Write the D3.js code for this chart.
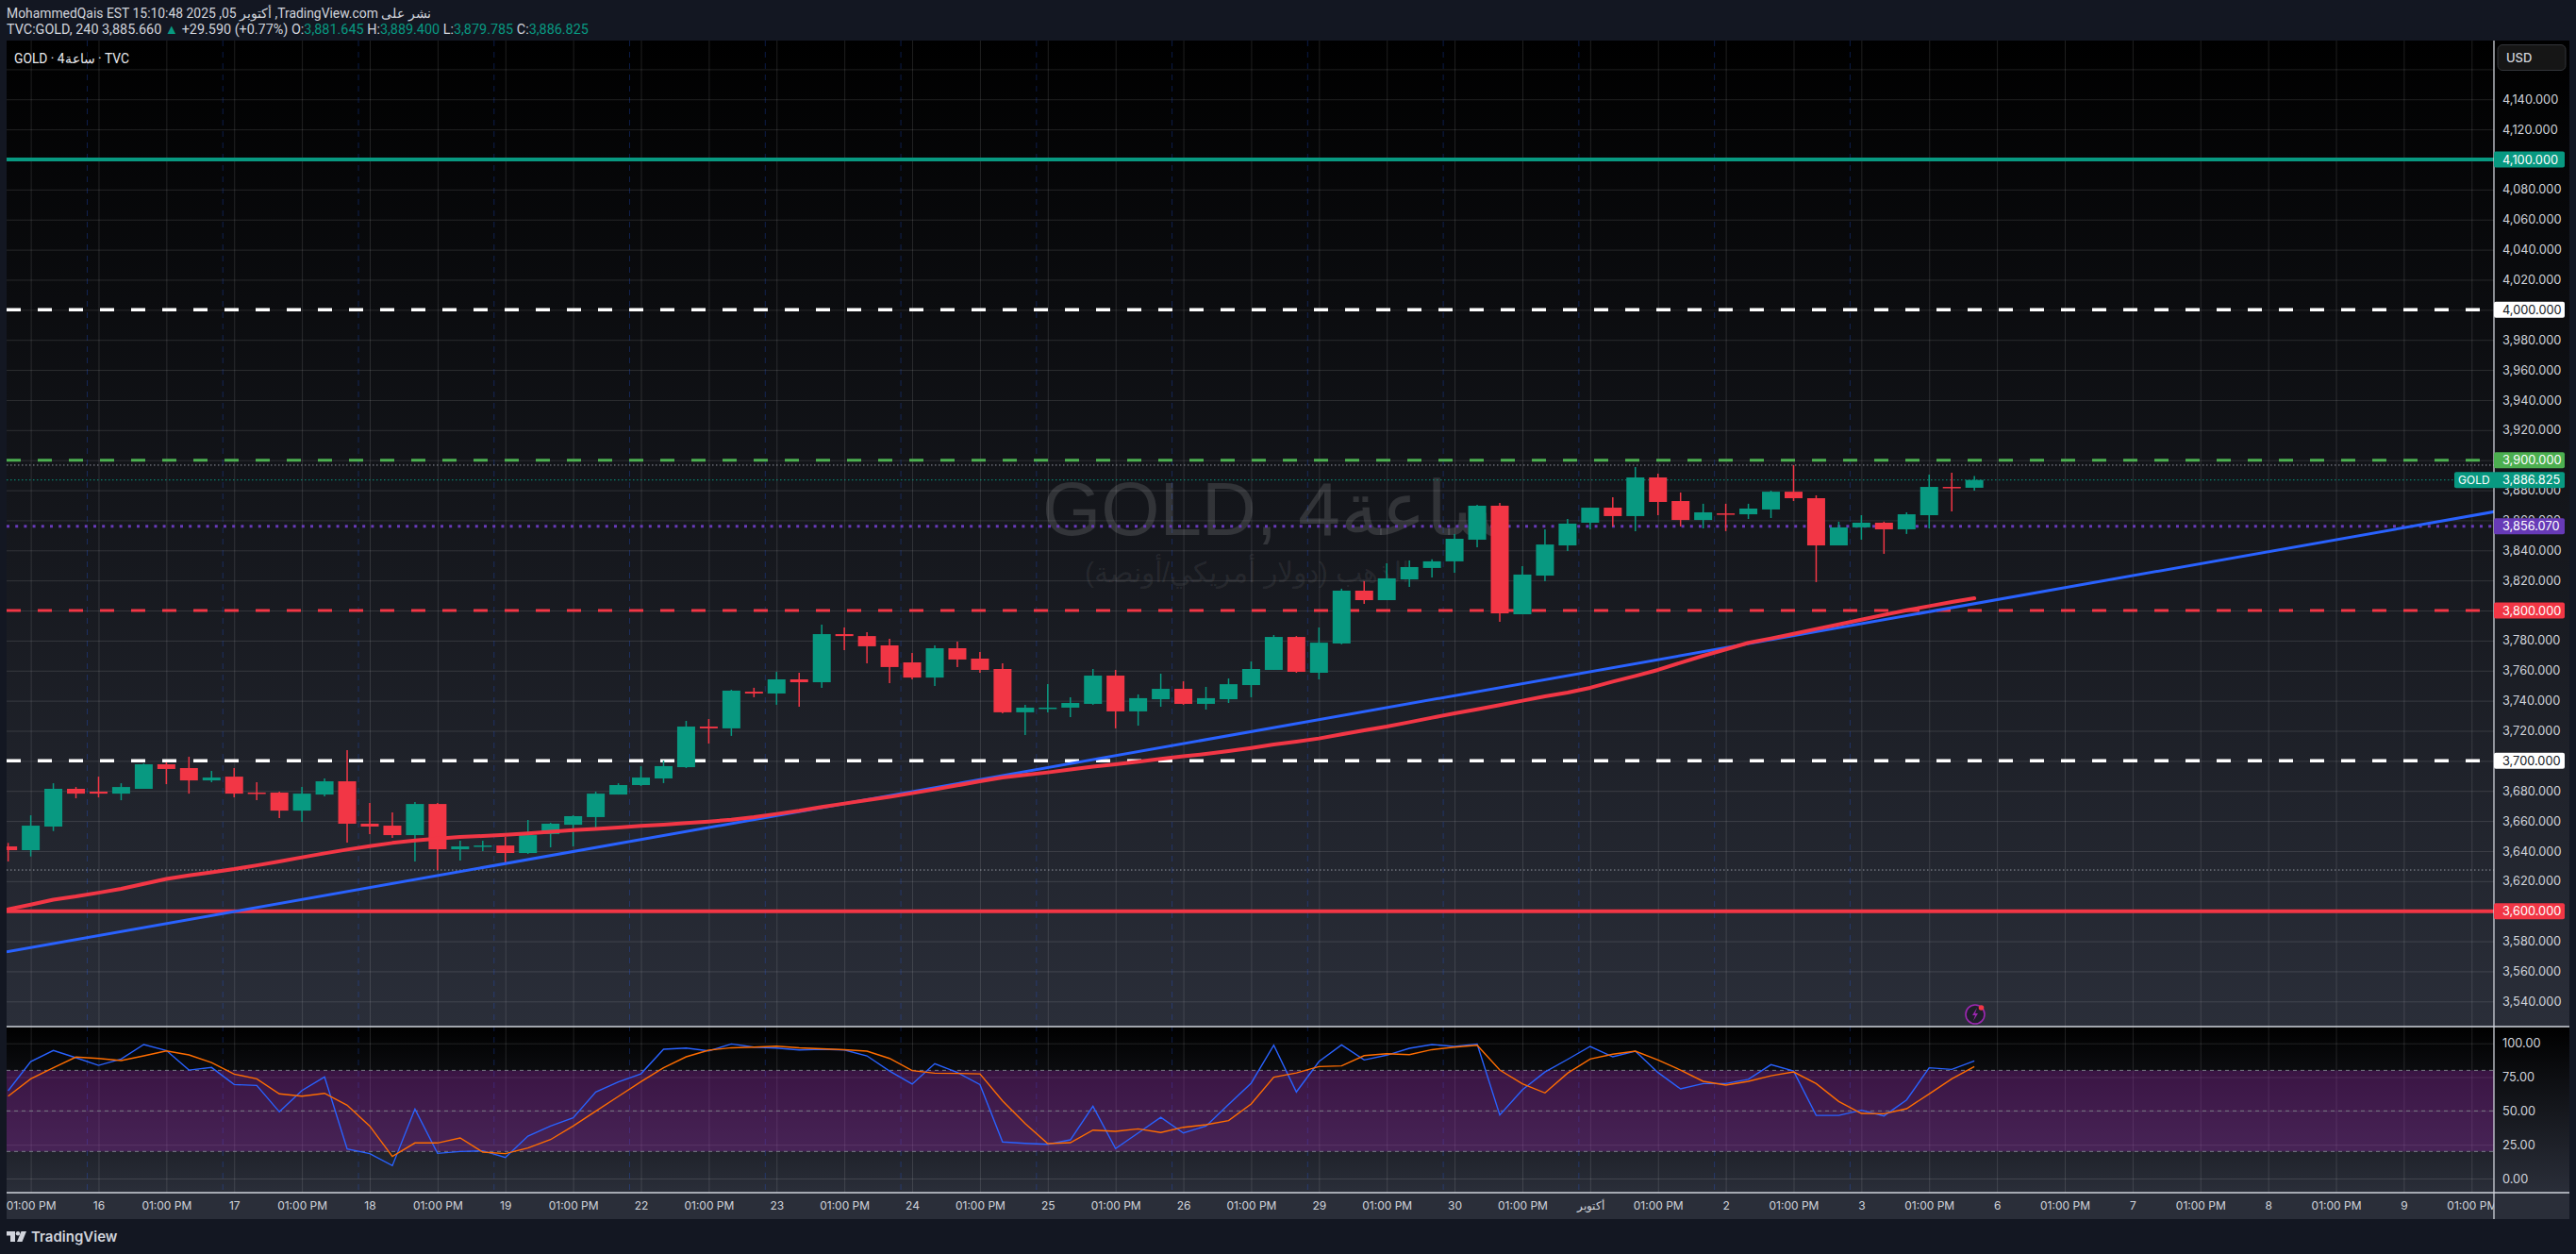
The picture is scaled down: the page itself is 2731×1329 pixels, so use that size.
<!DOCTYPE html>
<html>
<head>
<meta charset="utf-8">
<script src="https://cdn.jsdelivr.net/npm/d3@7"></script>
<style>
  html, body { margin: 0; padding: 0; background: #131722; overflow: hidden; }
  svg { display: block; }
  text { font-family: Inter, sans-serif; }
  .axis text { fill: #d1d4dc; font-size: 12.8px; font-family: Inter, sans-serif; }
  .time text { font-size: 12px; }
  .axis .domain { display: none; }
  .grid .domain { display: none; }
  .grid line { stroke: #fff; stroke-opacity: 0.12; }
</style>
</head>
<body>
<svg id="chart"></svg>
<script>
const opens = [3643.1,3640.6,3656.3,3681.4,3679.5,3678.2,3681.4,3697.7,3695.2,3687,3689.5,3678.9,3678.9,3666.9,3677.6,3686.4,3658.2,3656.9,3650.6,3671.3,3641.2,3643.1,3643.7,3638.7,3651.3,3657.5,3662.6,3677.6,3683.9,3688.3,3695.8,3722.8,3721.6,3746,3744.8,3754.2,3752.3,3784.3,3783,3776.8,3765.5,3755.4,3774.9,3768,3761.1,3732.3,3734.8,3735.4,3737.9,3756.7,3732.9,3741,3747.9,3737.9,3741,3750.4,3760.5,3782.4,3758.6,3778.1,3813.2,3806.9,3820.7,3828.3,3832.7,3847.1,3869.7,3797.5,3823.2,3843.3,3858.4,3868.4,3862.8,3888.5,3872.8,3860.2,3864.6,3864,3867.2,3879,3874.7,3843.3,3855.3,3858.4,3854,3863.4,3882.2,3881.645];
const highs = [3645.4,3663.8,3685.1,3682.6,3689.5,3685.1,3698.3,3699,3702.7,3693.3,3695.2,3685.8,3679.5,3682.6,3688.3,3707.1,3672,3665.7,3672.6,3672,3646.9,3646.9,3649.4,3660.7,3658.8,3663.8,3679.5,3685.1,3696.4,3700.2,3726.6,3727.8,3747.3,3748.6,3759.2,3758.6,3790.6,3788.7,3785.6,3781.2,3771.8,3776.8,3779.3,3772.4,3764.9,3737.3,3751,3742.3,3761.1,3760.5,3744.2,3758,3752.9,3749.2,3754.8,3766.1,3783.7,3783,3788.7,3814.5,3819.5,3831.4,3833.3,3834,3850.9,3870.3,3871.6,3829.5,3854,3860.9,3868.4,3875.3,3895.4,3891,3878.5,3871,3871,3871,3879.7,3896.7,3876.6,3859.1,3863.4,3859.1,3865.3,3890.4,3891.6,3889.4];
const lows = [3633.1,3636.4,3653.3,3675.1,3675.7,3673.8,3681.4,3684.5,3678.2,3685.8,3675.7,3673.8,3661.9,3659.4,3676.4,3645.6,3651.3,3648.7,3633.1,3627.4,3633.7,3640,3631.8,3638.1,3642.5,3643.1,3655.6,3677.6,3683.3,3685.2,3695.2,3711.5,3716.6,3742.3,3737.3,3736,3748.6,3773.6,3764.9,3751.7,3754.2,3749.8,3762.4,3758.6,3731.6,3717.2,3732.3,3729.1,3737.3,3721.6,3723.4,3736,3737.3,3734.1,3738.5,3742.3,3760.5,3758.6,3754.2,3777.5,3804.4,3806.9,3815.7,3822,3825.1,3842,3792.5,3797.5,3819.5,3839.5,3854,3855.9,3852.8,3863.4,3855.9,3854.6,3852.8,3860.9,3861.5,3872.8,3818.9,3843.3,3847.1,3837.7,3850.9,3854.6,3865.9,3879.785];
const closes = [3640.6,3656.9,3681.4,3678.2,3678.2,3682.6,3697.7,3694.6,3687,3688.9,3678.2,3678.2,3666.9,3678.2,3686.4,3658.2,3656.3,3650.6,3671.3,3641.2,3643.1,3643.7,3638.7,3650.6,3658.2,3663.2,3678.2,3683.9,3688.9,3696.5,3722.8,3721.6,3746.7,3744.8,3754.2,3752.3,3784.3,3783,3776.2,3762.4,3755.4,3774.9,3767.4,3760.5,3732.3,3735.4,3735.4,3738.5,3756.7,3732.9,3741.7,3747.9,3737.9,3741.7,3751,3761.1,3782.4,3759.2,3778.6,3813.2,3806.9,3821.4,3828.9,3832.7,3847.7,3869.7,3798.1,3823.9,3843.9,3857.8,3868.4,3862.8,3888.5,3872.2,3860.2,3865.3,3864,3867.8,3879,3874.7,3843.3,3855.3,3858.4,3854,3864,3882.2,3881.6,3886.825];

// red moving average, one value per candle
const movingAvg = [3601.3,3604.4,3607.7,3609.8,3612.3,3614.9,3618.2,3621.5,3623.8,3625.9,3628,3630.5,3633.1,3635.8,3638.5,3641,3643.3,3645.4,3647.1,3648.3,3649.4,3650,3650.8,3651.7,3652.9,3654,3654.8,3655.6,3656.7,3657.5,3658.6,3659.6,3660.9,3662.6,3664.7,3666.8,3669.3,3671.6,3673.9,3676,3678.5,3681,3683.7,3686.4,3688.9,3690.6,3692.3,3694.2,3696.1,3697.7,3699.4,3701.3,3703,3704.6,3706.5,3708.6,3710.9,3712.8,3714.9,3717.6,3720.3,3722.8,3725.7,3728.7,3731.6,3734.3,3737.1,3740,3742.9,3745.4,3748.6,3752.7,3756.5,3760.5,3765.3,3769.9,3774.1,3778.5,3781.4,3784.5,3787.7,3790.8,3793.9,3797.1,3800.2,3802.9,3805.7,3808.2];

// blue trend line, two anchors (bar index, price)
const trendBars = [-0.07, 110];
const trendPrices = [3573, 3865.7];

// lower pane
const stochK = [64.9,86.5,94.7,89.3,83.7,88.4,99.1,94.7,80.2,82.1,69.5,68.8,49.3,65.1,75.1,21.9,18.4,9.5,51.4,18.6,20,20.5,15.6,31.4,38.8,44.9,64,71.4,77.4,95.6,96.5,94.4,99.5,97.2,96.5,95.1,95.6,95.1,90.7,79.5,69.8,84.9,78.4,69.5,27,26,25.3,28.6,53.5,22.1,33.7,45.3,33.7,38.8,54.7,70.5,98.6,64,86.5,98.8,87.7,91.2,96.3,99.1,97.7,99.5,47,65.6,78.8,88.1,97.7,90,94.2,78.4,66.3,70.2,70.2,73.3,84.2,79.5,46.7,46.7,50.5,46.3,58.1,81.9,80.7,87];
const stochD = [60.9,73.7,81.9,89.8,88.8,87.2,90.7,94.4,91.4,85.8,77.2,73.7,62.6,60.9,63,54.2,38.8,16.3,26.3,26.3,30,19.5,18.4,22.6,28.8,38.8,49.8,60.7,71.6,81.9,90,94.9,96.7,97.2,97.9,96.7,96,95.3,94.2,88.8,79.8,77.9,77.7,77.4,57.4,40.7,25.8,26.5,35.8,34.9,36.7,34,37.9,39.8,42.8,55.1,74.9,78.1,82.8,83.3,90.9,92.3,91.6,95.3,97.2,98.6,80.2,70,63.3,77.9,88.4,91.9,94.2,87.7,80.2,71.9,69.1,71.9,76,78.8,70.2,57,48.1,47.9,51.6,62.6,73.7,82.8];

const priceTicks = [3540,3560,3580,3600,3620,3640,3660,3680,3700,3720,3740,3760,3780,3800,3820,3840,3860,3880,3900,3920,3940,3960,3980,4000,4020,4040,4060,4080,4100,4120,4140];
const oscTicks = [0,25,50,75,100];
const oscBands = [80,50,20];
const dayLabels = ["16","17","18","19","22","23","24","25","26","29","30","أكتوبر","2","3","6","7","8","9"];
const sessionBars = [3.5,9.5,15.5,21.5,27.5,33.5,39.5,45.5,51.5,57.5,63.5,69.5,75.5,81.5];

const svgWidth = 2731, svgHeight = 1329;
const plotL = 7, plotR = 2644, plotT = 43, paneEnd = 1088, oscEnd = 1264, plotB = 1292, outer = 2724;
const barW = 19;

const svg = d3.select("#chart").attr("width", svgWidth).attr("height", svgHeight);
const defs = svg.append("defs");

const grad = (id, y1, y2) => {
  const g = defs.append("linearGradient").attr("id", id).attr("gradientUnits", "userSpaceOnUse")
    .attr("x1", 0).attr("x2", 0).attr("y1", y1).attr("y2", y2);
  g.append("stop").attr("offset", 0).attr("stop-color", "#000");
  g.append("stop").attr("offset", 1).attr("stop-color", "#2a2e39");
};
grad("mainBg", plotT, paneEnd);
grad("oscBg", paneEnd, oscEnd);

defs.append("clipPath").attr("id", "mainClip").append("rect")
  .attr("x", plotL).attr("y", plotT).attr("width", plotR - plotL).attr("height", paneEnd - plotT);
defs.append("clipPath").attr("id", "oscClip").append("rect")
  .attr("x", plotL).attr("y", paneEnd).attr("width", plotR - plotL).attr("height", oscEnd - paneEnd);
defs.append("clipPath").attr("id", "timeClip").append("rect")
  .attr("x", plotL).attr("y", oscEnd).attr("width", plotR - plotL).attr("height", plotB - oscEnd);

// bars are spaced evenly, the time axis is just bar index
const x = d3.scaleLinear().domain([1, 109]).range([32.6, 2620.3]);
const y = d3.scaleLinear().domain([3600, 4100]).range([965.7, 169]);
const yOsc = d3.scaleLinear().domain([0, 100]).range([1249, 1105.7]);

const timeTicks = [1];
const timeLabels = ["01:00 PM"];
dayLabels.forEach((d, i) => {
  timeTicks.push(4 + i * 6, 7 + i * 6);
  timeLabels.push(d, "01:00 PM");
});

svg.append("rect").attr("x", plotL).attr("y", plotT).attr("width", outer - plotL).attr("height", paneEnd - plotT).attr("fill", "url(#mainBg)");
svg.append("rect").attr("x", plotL).attr("y", paneEnd).attr("width", outer - plotL).attr("height", oscEnd - paneEnd).attr("fill", "url(#oscBg)");
svg.append("rect").attr("x", plotL).attr("y", oscEnd).attr("width", outer - plotL).attr("height", plotB - oscEnd).attr("fill", "#2a2e39");

// grid
svg.append("g").attr("class", "grid").attr("transform", `translate(0, ${paneEnd})`)
  .call(d3.axisBottom(x).tickValues(timeTicks).tickSize(plotT - paneEnd).tickFormat(""));
svg.append("g").attr("class", "grid").attr("transform", `translate(0, ${oscEnd})`)
  .call(d3.axisBottom(x).tickValues(timeTicks).tickSize(paneEnd - oscEnd).tickFormat(""));
svg.append("g").attr("class", "grid").attr("transform", `translate(${plotR}, 0)`)
  .call(d3.axisLeft(y).tickValues(priceTicks.concat([4160])).tickSize(plotR - plotL).tickFormat(""));
svg.append("g").attr("class", "grid").attr("transform", `translate(${plotR}, 0)`)
  .call(d3.axisLeft(yOsc).tickValues(oscTicks).tickSize(plotR - plotL).tickFormat(""));

// session breaks
svg.append("g").selectAll("line")
  .data(sessionBars)
  .enter()
  .append("line")
  .attr("x1", d => x(d)).attr("x2", d => x(d))
  .attr("y1", plotT).attr("y2", oscEnd)
  .attr("stroke", "#2962ff").attr("stroke-opacity", 0.28).attr("stroke-dasharray", "6 6");

// watermark
svg.append("text").attr("x", 1105).attr("y", 567)
  .attr("fill", "#fff").attr("fill-opacity", 0.13)
  .style("font-family", "'Liberation Sans', sans-serif").style("font-size", "80px")
  .text("GOLD, 4ساعة");
svg.append("text").attr("x", 1494).attr("y", 617)
  .attr("fill", "#fff").attr("fill-opacity", 0.08)
  .style("direction", "rtl")
  .style("font-family", "'Liberation Sans', sans-serif").style("font-size", "30px")
  .text("الذهب (دولار أمريكي/أونصة)");

const main = svg.append("g").attr("clip-path", "url(#mainClip)");

const level = (price, color, w, dash) => {
  main.append("line")
    .attr("x1", plotL).attr("x2", plotR)
    .attr("y1", y(price)).attr("y2", y(price))
    .attr("stroke", color).attr("stroke-width", w)
    .attr("stroke-dasharray", dash);
};

level(3896.7, "#9598a1", 1, "1.5 2.5");
level(3627.4, "#9598a1", 1, "1.5 2.5");
level(3886.825, "#089981", 1, "1.5 2.5");
level(4100, "#089981", 4, null);
level(4000, "#ffffff", 3.5, "15 18");
level(3900, "#4caf50", 3, "15 18");
level(3856.07, "#673ab7", 3, "3 6.2");
level(3800, "#f23645", 3, "15 18");
level(3700, "#ffffff", 3.5, "15 18");
level(3600, "#f23645", 4, null);

// candles
const bars = d3.range(opens.length);
const barColor = i => closes[i] >= opens[i] ? "#089981" : "#f23645";

main.append("g").selectAll("line")
  .data(bars)
  .enter()
  .append("line")
  .attr("x1", i => x(i)).attr("x2", i => x(i))
  .attr("y1", i => y(highs[i])).attr("y2", i => y(lows[i]))
  .attr("stroke", barColor).attr("stroke-width", 1.5);

main.append("g").selectAll("rect")
  .data(bars)
  .enter()
  .append("rect")
  .attr("x", i => x(i) - barW / 2)
  .attr("width", barW)
  .attr("y", i => y(Math.max(opens[i], closes[i])))
  .attr("height", i => Math.max(1.5, Math.abs(y(opens[i]) - y(closes[i]))))
  .attr("fill", barColor);

// blue trend line then red average on top
const trendLine = d3.line().x(i => x(trendBars[i])).y(i => y(trendPrices[i]));
main.append("path").datum(d3.range(trendBars.length))
  .attr("d", trendLine).attr("fill", "none").attr("stroke", "#2962ff").attr("stroke-width", 3);

const maLine = d3.line().x(i => x(i)).y(i => y(movingAvg[i]));
main.append("path").datum(bars)
  .attr("d", maLine).attr("fill", "none").attr("stroke", "#f23645").attr("stroke-width", 4)
  .attr("stroke-linecap", "round").attr("stroke-linejoin", "round");

// lower pane
const osc = svg.append("g").attr("clip-path", "url(#oscClip)");
osc.append("rect").attr("x", plotL).attr("width", plotR - plotL)
  .attr("y", yOsc(80)).attr("height", yOsc(20) - yOsc(80))
  .attr("fill", "#9c27b0").attr("fill-opacity", 0.33);
osc.append("g").selectAll("line")
  .data(oscBands)
  .enter()
  .append("line")
  .attr("x1", plotL).attr("x2", plotR)
  .attr("y1", d => yOsc(d)).attr("y2", d => yOsc(d))
  .attr("stroke", "#787b86").attr("stroke-width", 1).attr("stroke-dasharray", "4 4");

const oscLine = values => d3.line().x(i => x(i)).y(i => yOsc(values[i]));
osc.append("path").datum(bars).attr("d", oscLine(stochK)).attr("fill", "none").attr("stroke", "#2962ff").attr("stroke-width", 1.4);
osc.append("path").datum(bars).attr("d", oscLine(stochD)).attr("fill", "none").attr("stroke", "#ff6d00").attr("stroke-width", 1.4);

// pane borders
const rule = (x1, y1, x2, y2) => svg.append("line").attr("x1", x1).attr("y1", y1).attr("x2", x2).attr("y2", y2)
  .attr("stroke", "#d1d4dc").attr("stroke-width", 1.3);
rule(plotL, paneEnd, outer, paneEnd);
rule(plotL, oscEnd, outer, oscEnd);
rule(plotR, plotT, plotR, plotB);

// axes
svg.append("g").attr("class", "axis").attr("transform", "translate(2653, 0)")
  .call(d3.axisRight(y).tickValues(priceTicks).tickSize(0).tickPadding(0).tickFormat(d3.format(",.3f")));
svg.append("g").attr("class", "axis").attr("transform", "translate(2653, 0)")
  .call(d3.axisRight(yOsc).tickValues(oscTicks).tickSize(0).tickPadding(0).tickFormat(d3.format(".2f")));
// clip sits on an outer group so the axis translate does not shift it
svg.append("g").attr("clip-path", "url(#timeClip)")
  .append("g").attr("class", "axis time").attr("transform", `translate(0, ${oscEnd + 9.5})`)
  .call(d3.axisBottom(x).tickValues(timeTicks).tickSize(0).tickPadding(0).tickFormat((d, i) => timeLabels[i]));

// price tags
const tag = (price, fill, ink) => {
  const g = svg.append("g").attr("transform", `translate(${plotR}, ${y(price)})`);
  g.append("rect").attr("y", -8.5).attr("width", 75).attr("height", 17).attr("rx", 2).attr("fill", fill);
  g.append("text").attr("x", 9).attr("dy", "0.36em").attr("fill", ink).style("font-size", "12.8px").text(d3.format(",.3f")(price));
};
tag(4100, "#089981", "#fff");
tag(4000, "#ffffff", "#131722");
tag(3900, "#4caf50", "#fff");
tag(3856.07, "#673ab7", "#fff");
tag(3800, "#f23645", "#fff");
tag(3700, "#ffffff", "#131722");
tag(3600, "#f23645", "#fff");
tag(closes[closes.length - 1], "#089981", "#fff");

svg.append("rect").attr("x", 2602).attr("y", y(3886.825) - 8.5).attr("width", 44).attr("height", 17).attr("rx", 2).attr("fill", "#089981");
svg.append("text").attr("x", 2606).attr("y", y(3886.825)).attr("dy", "0.36em").attr("fill", "#fff").style("font-size", "12px").text("GOLD");

// currency box
svg.append("rect").attr("x", 2648).attr("y", 47.5).attr("width", 72).attr("height", 27).attr("rx", 5)
  .attr("fill", "#161616").attr("stroke", "#33353a");
svg.append("text").attr("x", 2657).attr("y", 61).attr("dy", "0.36em").attr("fill", "#d1d4dc")
  .style("font-size", "13px").style("font-weight", 500).text("USD");

// alert icon
const icon = svg.append("g").attr("transform", "translate(2094, 1075)");
icon.append("circle").attr("r", 10).attr("fill", "#1e1e28").attr("stroke", "#9c27b0").attr("stroke-width", 1.6);
icon.append("path").attr("d", "M2 -7 L-3 1 L0 1 L-2 7 L3 -1 L0 -1 Z").attr("fill", "#9c27b0");
icon.append("circle").attr("cx", 6.5).attr("cy", -7).attr("r", 2.8).attr("fill", "#f23645");

// header
const head = (yy, size) => svg.append("text").attr("x", 7).attr("y", yy)
  .style("font-family", "Roboto, sans-serif").style("font-size", size).attr("fill", "#d1d4dc");
head(19, "13.9px").text("MohammedQais EST 15:10:48 2025 ,05 أكتوبر ,TradingView.com نشر على");
const line2 = head(36, "14.4px");
const teal = "#089981";
[["TVC:GOLD, 240 3,885.660 "], ["▲", teal], [" +29.590 (+0.77%) O:"], ["3,881.645", teal], [" H:"], ["3,889.400", teal], [" L:"], ["3,879.785", teal], [" C:"], ["3,886.825", teal]]
  .forEach(p => line2.append("tspan").attr("fill", p[1] || "#d1d4dc").text(p[0]));

svg.append("text").attr("x", 15).attr("y", 62).attr("dy", "0.36em").attr("fill", "#e8e9ed")
  .style("font-family", "Roboto, sans-serif").style("font-size", "13.8px").text("GOLD · 4ساعة · TVC");

// footer logo
const logo = svg.append("g").attr("fill", "#d1d4dc");
logo.append("path").attr("d", "M7 1305 H16 V1316 H11 V1309.5 H7 Z");
logo.append("circle").attr("cx", 19).attr("cy", 1307.3).attr("r", 2.2);
logo.append("path").attr("d", "M22.5 1305 H28 L23.5 1316 H18 Z");
svg.append("text").attr("x", 33).attr("y", 1311).attr("dy", "0.36em").attr("fill", "#d1d4dc")
  .style("font-family", "Inter, sans-serif").style("font-size", "15px").style("font-weight", 600).text("TradingView");
</script>
</body>
</html>
